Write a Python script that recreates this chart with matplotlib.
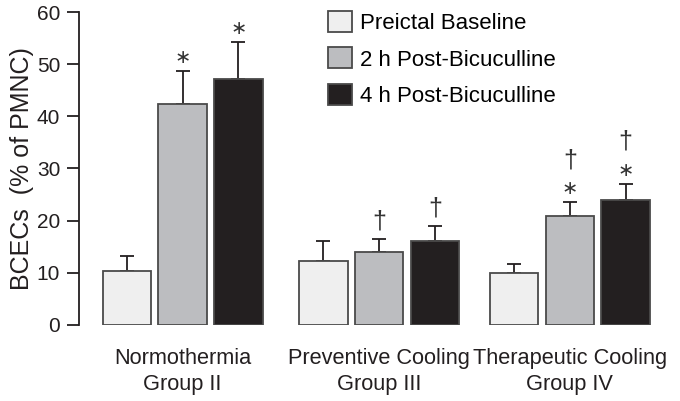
import numpy as np
import matplotlib.pyplot as plt

plt.rcParams['font.family'] = ['Liberation Sans', 'DejaVu Sans']

# data
groups = ['Normothermia\nGroup II', 'Preventive Cooling\nGroup III', 'Therapeutic Cooling\nGroup IV']
series = ['Preictal Baseline', '2 h Post-Bicuculline', '4 h Post-Bicuculline']
baseline = [10.3, 12.3, 10.0]
post2h = [42.4, 13.9, 20.9]
post4h = [47.2, 16.0, 24.0]
err_baseline = [2.9, 3.8, 1.6]
err_post2h = [6.3, 2.6, 2.7]
err_post4h = [7.1, 3.0, 3.1]
# significance marks per series: (group index, mark)
marks_2h = [(0, '*'), (1, '†'), (2, '*'), (2, '†')]
marks_4h = [(0, '*'), (1, '†'), (2, '*'), (2, '†')]

colors = ['#efefef', '#bcbdc0', '#231f20']

fig = plt.figure(figsize=(6.8, 4.01), dpi=100)
ax = fig.add_axes([0.116, 0.19, 0.87, 0.78])

x = np.array([0.0, 1.015, 2.0])
offsets = [-0.288, 0.0, 0.288]
width = 0.25
values = [baseline, post2h, post4h]
errs = [err_baseline, err_post2h, err_post4h]

for i in range(3):
    xs = x + offsets[i]
    ax.bar(xs, values[i], width=width, color=colors[i], edgecolor='#4a4a4a',
           linewidth=1.3, label=series[i], zorder=2)
    ax.errorbar(xs, values[i], yerr=[np.zeros(3), errs[i]], fmt='none',
                ecolor='#231f20', elinewidth=1.3, capsize=5, capthick=1.3, zorder=1)

# significance symbols
for i, marks in [(1, marks_2h), (2, marks_4h)]:
    for g, m in marks:
        top = values[i][g] + errs[i][g]
        if m == '*':
            ax.text(x[g] + offsets[i], top + 2.5, '∗', ha='center', va='center',
                    fontsize=14, color='#333333', family='DejaVu Sans')
        else:
            has_star = any(gg == g and mm == '*' for gg, mm in marks)
            yy = top + (8.0 if has_star else 3.3)
            ax.text(x[g] + offsets[i], yy, '†', ha='center', va='center',
                    fontsize=18, color='#333333')

ax.set_ylim(0, 60)
ax.set_yticks(np.arange(0, 61, 10))
ax.set_xlim(-0.536, 2.52)
ax.set_xticks(x)
ax.set_xticklabels(groups, fontsize=15.7, color='#231f20', linespacing=1.3)
ax.tick_params(axis='x', length=0, pad=17)
ax.tick_params(axis='y', labelsize=15, colors='#231f20', length=8.5, width=1.3,
               direction='out', pad=5)
for s in ['top', 'right', 'bottom']:
    ax.spines[s].set_visible(False)
ax.spines['left'].set_linewidth(1.3)
ax.spines['left'].set_color('#231f20')
ax.set_ylabel('BCECs  (% of PMNC)', fontsize=18, color='#231f20', labelpad=2)

ax.legend(loc='upper left', bbox_to_anchor=(328 / 680, 1 - 11 / 401), bbox_transform=fig.transFigure,
          frameon=False, fontsize=16, handlelength=1.08, handleheight=1.08, labelspacing=0.6,
          handletextpad=0.36, borderpad=0, borderaxespad=0)

fig.savefig('out.png', dpi=100)
